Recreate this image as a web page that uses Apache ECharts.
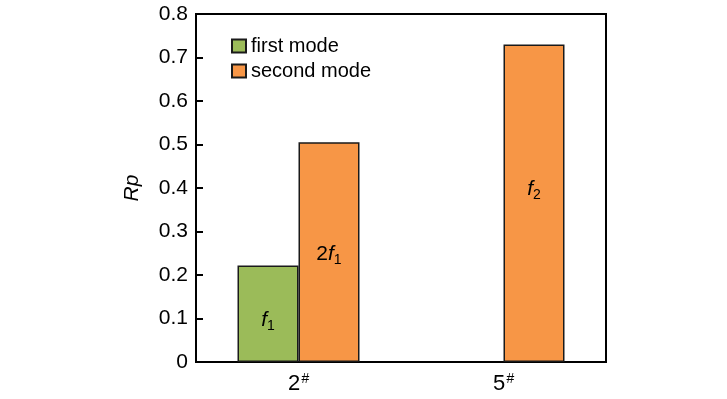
<!DOCTYPE html>
<html>
<head>
<meta charset="utf-8">
<script src="https://cdn.jsdelivr.net/npm/echarts@6/dist/echarts.min.js"></script>
<style>
html, body { margin: 0; padding: 0; background: #fff; }
#chart { width: 727px; height: 399px; }
</style>
</head>
<body>
<div id="chart"></div>
<script>
var categories = ['2', '5'];
var firstMode = [0.222, null];
var secondMode = [0.505, 0.730];
var firstLabels = ['{i|f}{s|1}', ''];
var secondLabels = ['{n|2}{i|f}{s|1}', '{i|f}{s|2}'];

var chart = echarts.init(document.getElementById('chart'));
var labelRich = {
    n: { fontFamily: 'Liberation Sans', fontSize: 21, color: '#000' },
    i: { fontFamily: 'Liberation Sans', fontSize: 21, fontStyle: 'italic', color: '#000' },
    s: { fontFamily: 'Liberation Sans', fontSize: 14, color: '#000', padding: [12, 0, 0, 0] }
};
// label vertical nudges per bar
var secondOffsets = [[0, 2], [0, -14]];

var option = {
    animation: false,
    grid: { left: 196, right: 121, top: 14, bottom: 37, show: true, borderColor: '#000', borderWidth: 2, backgroundColor: 'transparent' },
    legend: {
        orient: 'vertical',
        left: 226,
        top: 31,
        itemWidth: 14,
        itemHeight: 13,
        itemGap: 5,
        icon: 'rect',
        textStyle: { fontFamily: 'Liberation Sans', fontSize: 20, color: '#000' },
        data: ['first mode', 'second mode']
    },
    xAxis: {
        type: 'category',
        data: categories,
        axisLine: { lineStyle: { color: '#000', width: 2 } },
        axisTick: { show: false },
        axisLabel: {
            margin: 10,
            formatter: function (v) { return '{n|' + v + '}{s|#}'; },
            rich: {
                n: { fontFamily: 'Liberation Sans', fontSize: 22, color: '#000' },
                s: { fontFamily: 'Liberation Sans', fontSize: 14, fontStyle: 'italic', color: '#000', padding: [0, 0, 10, 1] }
            }
        }
    },
    yAxis: {
        type: 'value',
        min: 0,
        max: 0.8,
        interval: 0.1,
        name: 'Rp',
        nameLocation: 'middle',
        nameGap: 53,
        nameTextStyle: { fontFamily: 'Liberation Sans', fontSize: 21, fontStyle: 'italic', color: '#000' },
        axisLine: { show: true, lineStyle: { color: '#000', width: 2 } },
        axisTick: { show: true, inside: true, length: 7, lineStyle: { color: '#000', width: 2 } },
        splitLine: { show: false },
        axisLabel: {
            margin: 8,
            fontFamily: 'Liberation Sans',
            fontSize: 21,
            color: '#000',
            formatter: function (v) { return v === 0 ? '0' : v.toFixed(1); }
        }
    },
    series: [
        {
            name: 'first mode',
            type: 'bar',
            data: firstMode,
            barWidth: 61,
            barGap: '0%',
            itemStyle: { color: '#9BBB59', borderColor: '#1a1a1a', borderWidth: 1.5 },
            label: {
                show: true,
                position: 'inside',
                offset: [0, 6],
                formatter: function (p) { return firstLabels[p.dataIndex]; },
                rich: labelRich
            }
        },
        {
            name: 'second mode',
            type: 'bar',
            data: secondMode.map(function (v, i) {
                return { value: v, label: { offset: secondOffsets[i] } };
            }),
            barWidth: 61,
            barGap: '0%',
            itemStyle: { color: '#F79646', borderColor: '#1a1a1a', borderWidth: 1.5 },
            label: {
                show: true,
                position: 'inside',
                formatter: function (p) { return secondLabels[p.dataIndex]; },
                rich: labelRich
            }
        }
    ]
};
chart.setOption(option);
</script>
</body>
</html>
